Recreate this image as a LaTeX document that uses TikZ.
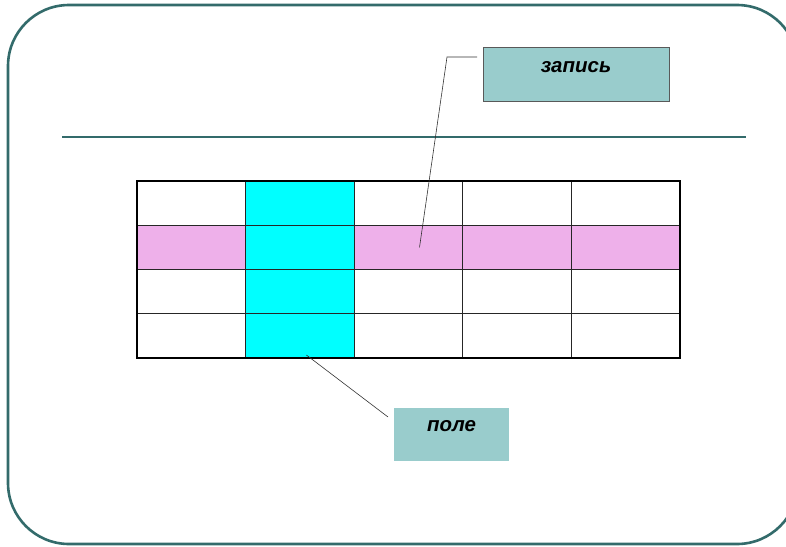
\documentclass[tikz,border=0pt]{standalone}
\usepackage{fontspec}
\setmainfont{Liberation Sans}
\usetikzlibrary{positioning, calc}
\definecolor{frameteal}{HTML}{336B6B}
\definecolor{labelteal}{HTML}{99CCCC}
\definecolor{rowpink}{HTML}{EEB0EA}
\definecolor{colcyan}{HTML}{00FFFF}
\tikzset{ % styles for the table and the two callouts
  cell/.style={draw=black!85,line width=1.1pt,minimum width=108.6pt,
    minimum height=44.25pt,inner sep=0,outer sep=0},
  label box/.style={fill=labelteal,anchor=north west,inner sep=0,outer sep=0},
  label text/.style={font=\bfseries\itshape\fontsize{20.5}{23}\selectfont,anchor=base},
  leader/.style={draw=black!80,line width=0.6pt},
  frame/.style={draw=frameteal,line width=2.6pt}
}

\begin{document}
\begin{tikzpicture}[x=1pt,y=-1pt]
\useasboundingbox (0,0) rectangle (786,546);

% slide frame and rule
\draw[frame,rounded corners=61pt] (8,5) rectangle (798,544);
\draw[frame] (62,137) -- (746,137);

% highlighted row and column
\fill[rowpink] (137,225) rectangle (680,270);
\fill[colcyan] (246,181) rectangle (355,358);

% table cells
\foreach\r in {1,2,3,4}
  \foreach\c in {1,2,3,4,5}
    \node[cell] (c\r\c) at ({137+108.6*(\c-0.5)},{181+44.25*(\r-0.5)}) {};
\draw[black,line width=2.4pt] (c11.north west) rectangle (c45.south east);

% callouts
\node[label box,draw=black!65,line width=0.8pt,minimum width=186pt,minimum height=54pt]
  (zapis) at (483,47) {};
\node[label text] (zapistext) at ($(zapis.north)+(0,25)$) {запись};
\node[label box,minimum width=115pt,minimum height=53pt] (pole) at (394,408) {};
\node[label text] (poletext) at ($(pole.north)+(0,23)$) {поле};

% leader lines
\coordinate (zapisend) at ($(c23.center)+(11,0)$);
\coordinate (polestart) at ($(c42.south)+(6.5,-3)$);
\draw[leader] ($(zapis.north west)+(-6,10)$) -- ++(-30,0) -- (zapisend);
\draw[leader] (polestart) -- ($(pole.north west)+(-6,9)$);
\end{tikzpicture}
\end{document}
